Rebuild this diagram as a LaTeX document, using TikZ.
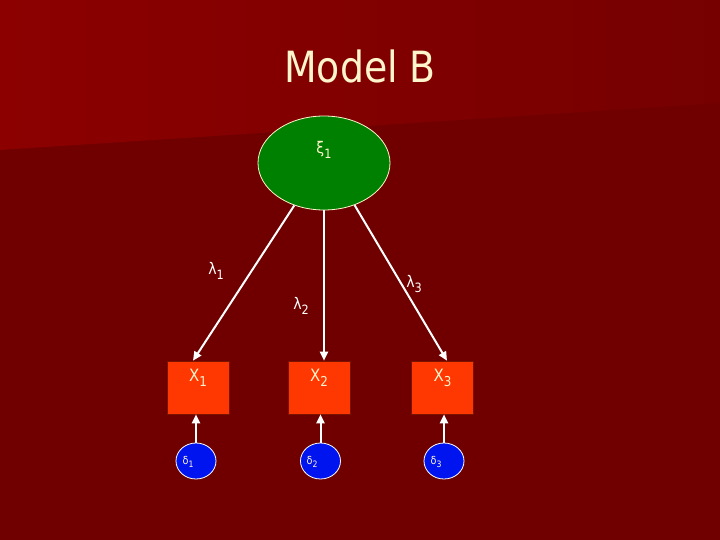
\documentclass[tikz,border=0pt]{standalone}
\usepackage{fontspec}
\setmainfont{DejaVu Sans}[FakeStretch=0.88]
\usetikzlibrary{arrows.meta,calc,shapes.geometric}
\definecolor{bgmain}{RGB}{112,0,0}
\definecolor{bglight}{RGB}{140,0,0}
\definecolor{bgmid}{RGB}{118,0,0}
\definecolor{cream}{RGB}{255,245,205}
\definecolor{boxred}{RGB}{255,55,0}
\definecolor{boxedge}{RGB}{120,20,0}
\definecolor{latgreen}{RGB}{0,128,0}
\definecolor{errblue}{RGB}{0,20,240}
\newcommand\lowsub[1]{\raisebox{-0.3em}{\scalebox{0.8}{#1}}}
\begin{document}
\begin{tikzpicture}[x=1pt,y=-1pt,
  obsbox/.style={rectangle, draw=boxedge, line width=0.6pt, fill=boxred, minimum width=62, minimum height=53, inner sep=0},
  errcirc/.style={ellipse, draw=white, line width=0.8pt, fill=errblue, minimum width=40, minimum height=36, inner sep=0},
  latell/.style={ellipse, draw=cream, line width=0.8pt, fill=latgreen, minimum width=132, minimum height=94, inner sep=0},
  arr/.style={draw=white, line width=2pt, -{Triangle[length=9pt,width=8pt]}},
  obslab/.style={text=cream, font=\fontsize{17}{20}\selectfont},
  lamlab/.style={text=white, font=\fontsize{16}{19}\selectfont},
  errlab/.style={text=cream, font=\fontsize{11}{13}\selectfont}]
\useasboundingbox (0,0) rectangle (720,540);
\fill[bgmain] (0,0) rectangle (720,540);
\shade[left color=bglight, right color=bgmid] (0,0) -- (720,0) -- (720,103) -- (0,150) -- cycle;
\node[text=cream, font=\fontsize{43}{50}\selectfont, anchor=base] (title) at (360,83) {Model B};
% latent
\node[latell] (xi) at (324,163) {};
\node[text=cream, font=\fontsize{16}{19}\selectfont] (xit) at (324,150) {ξ\lowsub{1}};
% observed
\node[obsbox] (x1) at (198,387.5) {};
\node[obsbox] (x2) at (319,387.5) {};
\node[obsbox] (x3) at (442.5,387.5) {};
\node[obslab] (x1t) at (198,378) {X\lowsub{1}};
\node[obslab] (x2t) at (319,378) {X\lowsub{2}};
\node[obslab] (x3t) at (442.5,378) {X\lowsub{3}};
% errors
\node[errcirc] (d1) at (196,461) {};
\node[errcirc] (d2) at (320.5,461) {};
\node[errcirc] (d3) at (444,461) {};
\node[errlab] (d1t) at (188,462) {δ\lowsub{1}};
\node[errlab] (d2t) at (312,462) {δ\lowsub{2}};
\node[errlab] (d3t) at (436,462) {δ\lowsub{3}};
% loadings
\draw[arr] (xi.235) -- ($(x1.north)+(-5,0)$);
\draw[arr] (xi.south) -- (xi.south |- x2.north);
\draw[arr] (xi.306) -- ($(x3.north)+(4.5,0)$);
\node[lamlab] (l1) at (216,271) {λ\lowsub{1}};
\node[lamlab] (l2) at (301,306) {λ\lowsub{2}};
\node[lamlab] (l3) at (414,284) {λ\lowsub{3}};
% error arrows
\draw[arr] (d1.north) -- (d1.north |- x1.south);
\draw[arr] (d2.north) -- (d2.north |- x2.south);
\draw[arr] (d3.north) -- (d3.north |- x3.south);
\end{tikzpicture}
\end{document}
